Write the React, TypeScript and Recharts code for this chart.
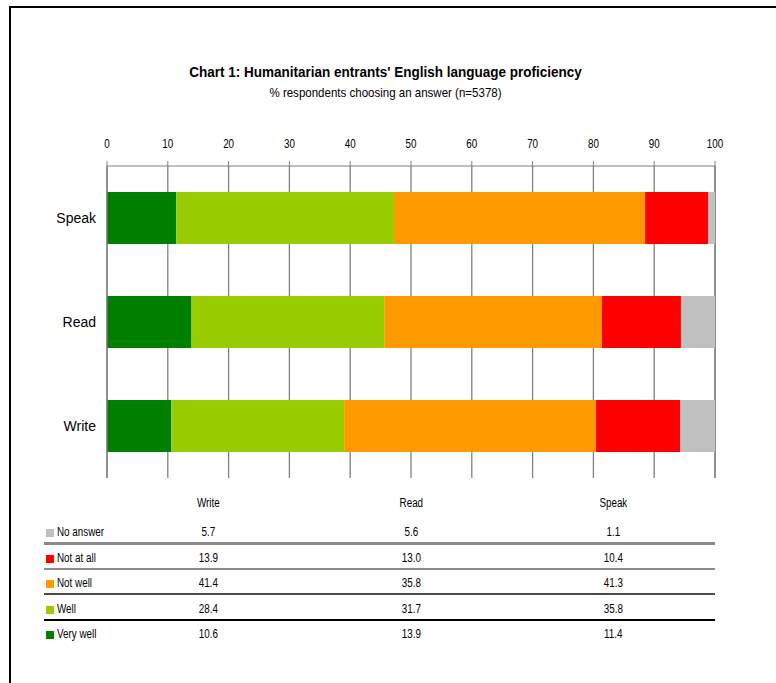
import React from 'react';
import { BarChart, Bar, XAxis, YAxis, CartesianGrid } from 'recharts';

// Proficiency shares (%) per skill, top row first
const categories = ['Speak', 'Read', 'Write'];
const veryWell = [11.4, 13.9, 10.6];
const well = [35.8, 31.7, 28.4];
const notWell = [41.3, 35.8, 41.4];
const notAtAll = [10.4, 13.0, 13.9];
const noAnswer = [1.1, 5.6, 5.7];
const xTicks = [0, 10, 20, 30, 40, 50, 60, 70, 80, 90, 100];
const edgeTicks = [0, 1, 2, 3];

const series = [
  { key: 'veryWell', name: 'Very well', values: veryWell, color: '#008000' },
  { key: 'well', name: 'Well', values: well, color: '#99CC00' },
  { key: 'notWell', name: 'Not well', values: notWell, color: '#FF9900' },
  { key: 'notAtAll', name: 'Not at all', values: notAtAll, color: '#FF0000' },
  { key: 'noAnswer', name: 'No answer', values: noAnswer, color: '#C0C0C0' },
];

const data = categories.map((cat, i) => {
  const row: Record<string, string | number> = { cat };
  series.forEach((s) => {
    row[s.key] = s.values[i];
  });
  return row;
});

const SANS = "'Liberation Sans', Arial, sans-serif";
const SQUEEZE = 0.82; // horizontal condensing for the narrow lettering

const PLOT_LEFT = 107;
const PLOT_RIGHT = 715;
const PLOT_TOP = 166;
const PLOT_BOTTOM = 478;
const X_AXIS_H = 30;
const CAT_AXIS_W = 60;
const GRID = '#808080';

// Condensed text block (HTML)
function Narrow({
  left,
  width,
  cy,
  align = 'center',
  size = 12,
  bold = false,
  squeeze = SQUEEZE,
  children,
}: {
  left: number;
  width: number;
  cy: number;
  align?: 'left' | 'center';
  size?: number;
  bold?: boolean;
  squeeze?: number;
  children: React.ReactNode;
}) {
  return (
    <div
      style={{
        position: 'absolute',
        left,
        width,
        top: cy - 8,
        lineHeight: '16px',
        textAlign: align,
        fontFamily: SANS,
        fontSize: size,
        fontWeight: bold ? 'bold' : 'normal',
        color: '#000',
        whiteSpace: 'nowrap',
        transform: `scaleX(${squeeze})`,
        transformOrigin: align === 'left' ? 'left center' : 'center center',
      }}
    >
      {children}
    </div>
  );
}

// Condensed tick label for the top value axis
function TopTick(props: any) {
  const { x, y, payload } = props;
  return (
    <text
      transform={`translate(${x},${y}) scale(${SQUEEZE},1)`}
      textAnchor="middle"
      fontFamily={SANS}
      fontSize={12}
      fill="#000"
    >
      {payload.value}
    </text>
  );
}

// data table below the chart: columns in reverse chart order, rows in reverse series order
const tableCols = [...categories].reverse();
const tableRows = [...series].reverse();
const rowLines = [
  { width: 3, color: '#8a8a8a' },
  { width: 2, color: '#8c8c8c' },
  { width: 2, color: '#4a4a4a' },
  { width: 2, color: '#000000' },
];

function DataTable() {
  const colW = (PLOT_RIGHT - PLOT_LEFT) / tableCols.length;
  const headerY = 503;
  const firstRowY = 532;
  const rowStep = 25.5;
  const fmt = (v: number) => v.toFixed(1);
  return (
    <>
      {tableCols.map((c, ci) => (
        <Narrow key={'h' + c} left={PLOT_LEFT + colW * ci} width={colW} cy={headerY}>
          {c}
        </Narrow>
      ))}
      {tableRows.map((s, ri) => {
        const cy = firstRowY + rowStep * ri;
        return (
          <React.Fragment key={s.key}>
            <div
              style={{
                position: 'absolute',
                left: 46,
                top: cy - 3,
                width: 8,
                height: 8,
                background: s.color,
              }}
            />
            <Narrow left={57} width={80} cy={cy} align="left">
              {s.name}
            </Narrow>
            {tableCols.map((c, ci) => {
              const idx = categories.indexOf(c);
              return (
                <Narrow key={s.key + c} left={PLOT_LEFT + colW * ci} width={colW} cy={cy}>
                  {fmt(s.values[idx])}
                </Narrow>
              );
            })}
            {ri < rowLines.length && (
              <div
                style={{
                  position: 'absolute',
                  left: 44,
                  width: PLOT_RIGHT - 44,
                  top: cy + 10,
                  height: rowLines[ri].width,
                  background: rowLines[ri].color,
                }}
              />
            )}
          </React.Fragment>
        );
      })}
    </>
  );
}

export default function App() {
  return (
    <div
      style={{
        position: 'absolute',
        left: 0,
        top: 0,
        width: 776,
        height: 683,
        background: '#fff',
        overflow: 'hidden',
      }}
    >
      {/* frame */}
      <div style={{ position: 'absolute', left: 9, top: 6, width: 767, height: 2, background: '#000' }} />
      <div style={{ position: 'absolute', left: 9, top: 6, width: 2, height: 677, background: '#000' }} />

      <Narrow left={0} width={771} cy={72} size={15} squeeze={0.9} bold>
        Chart 1: Humanitarian entrants' English language proficiency
      </Narrow>
      <Narrow left={0} width={771} cy={93} size={12.8} squeeze={0.9}>
        % respondents choosing an answer (n=5378)
      </Narrow>

      <div style={{ position: 'absolute', left: 0, top: 0 }}>
        <BarChart
          width={776}
          height={683}
          data={data}
          layout="vertical"
          barCategoryGap="25%"
          margin={{
            top: PLOT_TOP - X_AXIS_H,
            bottom: 683 - PLOT_BOTTOM,
            left: PLOT_LEFT - CAT_AXIS_W - 1,
            right: 776 - PLOT_RIGHT,
          }}
        >
          <CartesianGrid horizontal={false} stroke={GRID} strokeWidth={1.3} />
          <XAxis
            type="number"
            orientation="top"
            domain={[0, 100]}
            ticks={xTicks}
            height={X_AXIS_H}
            tickSize={5}
            tickMargin={13}
            stroke={GRID}
            tick={<TopTick />}
          />
          <XAxis
            xAxisId="bottom"
            type="number"
            orientation="bottom"
            domain={[0, 100]}
            height={0}
            tick={false}
            tickLine={false}
            stroke="#cccccc"
          />
          <YAxis
            yAxisId="cat"
            type="category"
            dataKey="cat"
            width={CAT_AXIS_W}
            axisLine={false}
            tickLine={false}
            tickSize={0}
            tickMargin={10}
            tick={{ fill: '#000', fontSize: 14, fontFamily: SANS }}
          />
          {/* band boundary ticks along the left edge of the plot */}
          <YAxis
            yAxisId="aEdge"
            type="number"
            orientation="left"
            domain={[0, 3]}
            ticks={edgeTicks}
            width={1}
            tick={false}
            tickSize={5}
            stroke={GRID}
            strokeWidth={1.3}
          />
          {series.map((s) => (
            <Bar
              key={s.key}
              dataKey={s.key}
              name={s.name}
              stackId="a"
              yAxisId="cat"
              fill={s.color}
              isAnimationActive={false}
            />
          ))}
        </BarChart>
      </div>

      <DataTable />
    </div>
  );
}
